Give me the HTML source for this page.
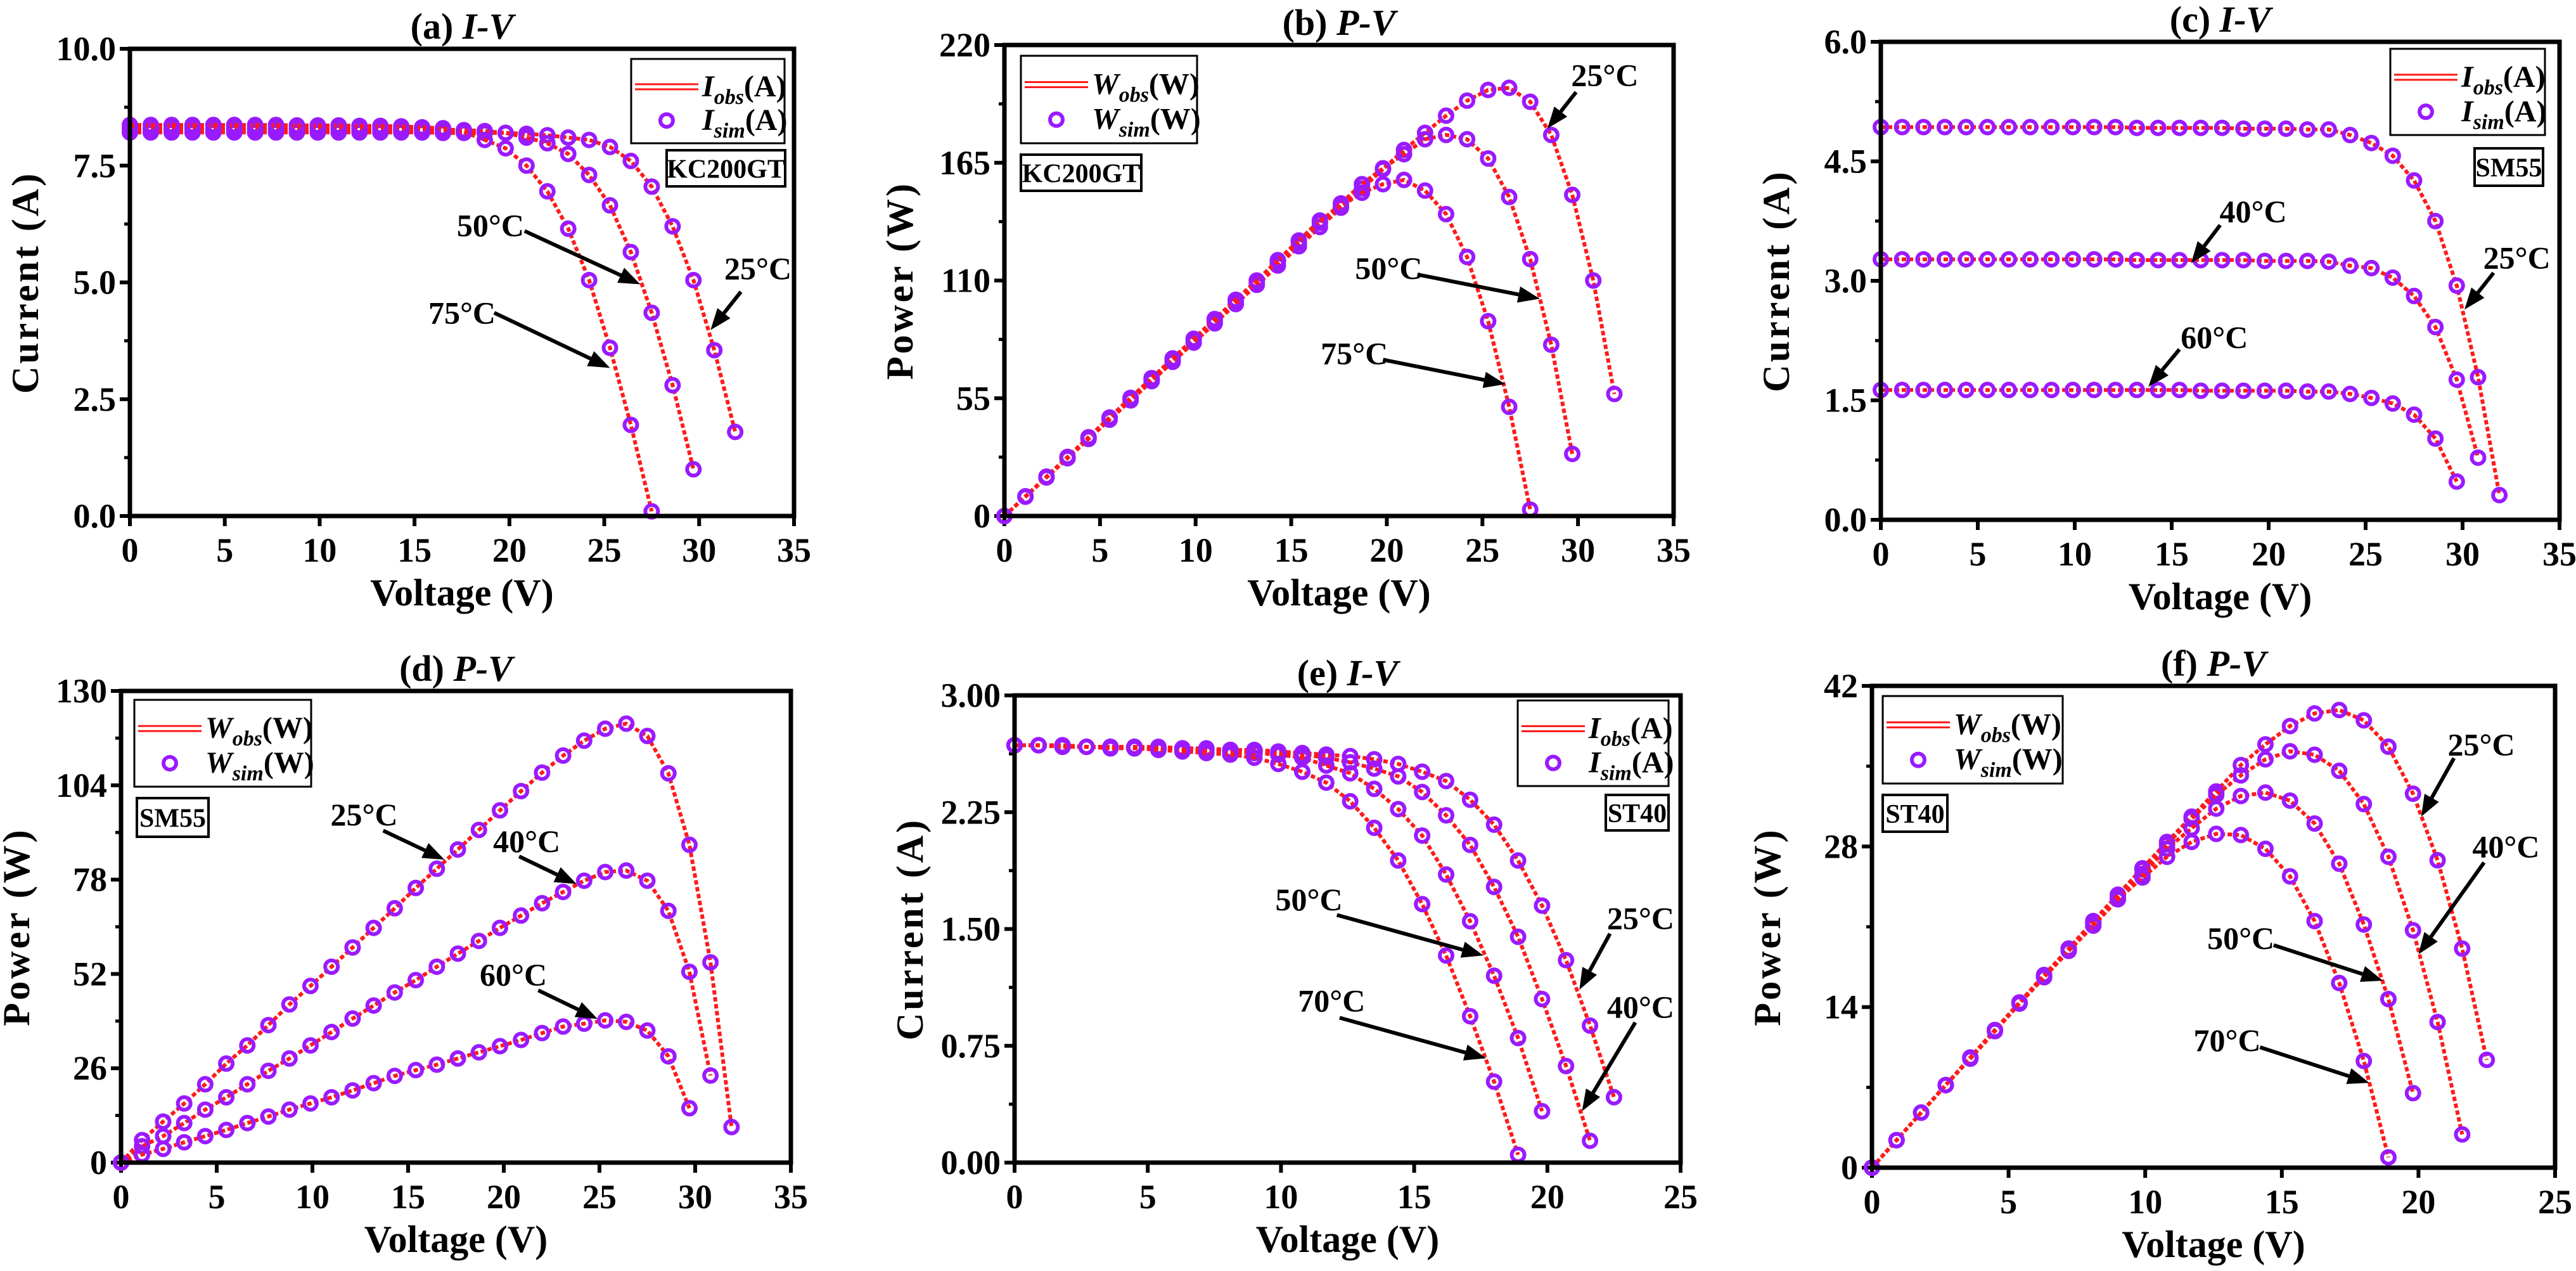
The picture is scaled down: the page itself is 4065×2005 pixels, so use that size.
<!DOCTYPE html>
<html><head><meta charset="utf-8"><style>
html,body{margin:0;padding:0;background:#fff;}
svg{display:block;font-family:"Liberation Serif","Times New Roman",serif;}
text{font-family:"Liberation Serif","Times New Roman",serif;}
</style></head><body>
<svg id="fig" width="4065" height="2005" viewBox="0 0 4065 2005" xmlns="http://www.w3.org/2000/svg" font-family="Liberation Serif, serif"></svg>
<script>
// ---- data ----
const V11 = [0,1.1,2.2,3.3,4.4,5.5,6.6,7.7,8.8,9.9,11,12.1,13.2,14.3,15.4,16.5,17.6,18.7,19.8,20.9,22,23.1,24.2,25.3,26.4,27.5,28.6,29.7,30.8,31.9];
const V09 = [0,0.9,1.8,2.7,3.6,4.5,5.4,6.3,7.2,8.1,9,9.9,10.8,11.7,12.6,13.5,14.4,15.3,16.2,17.1,18,18.9,19.8,20.7,21.6,22.5];
// (a) KC200GT I-V
const a25 = [8.21,8.21,8.21,8.21,8.21,8.21,8.21,8.21,8.21,8.21,8.21,8.21,8.21,8.21,8.21,8.2,8.2,8.2,8.2,8.18,8.15,8.1,8.05,7.9,7.6,7.05,6.2,5.05,3.55,1.8];
const a50 = [8.29,8.29,8.29,8.29,8.29,8.29,8.29,8.29,8.29,8.29,8.29,8.29,8.28,8.28,8.28,8.27,8.26,8.24,8.2,8.1,7.98,7.75,7.3,6.65,5.65,4.35,2.8,1.0];
const a75 = [8.37,8.37,8.37,8.37,8.37,8.37,8.37,8.37,8.36,8.36,8.36,8.35,8.35,8.34,8.32,8.3,8.22,8.05,7.87,7.5,6.95,6.15,5.05,3.6,1.95,0.1];
// (b) KC200GT P-V
const b25 = [0,9,18,27,36,45,54,63,72,81,90,99,108,117,126,135,144,153,162,171,179,187,194,199,200,193.5,178,150,110,57];
const b50 = [0,9.1,18.2,27.4,36.5,45.6,54.8,63.9,73,82.2,91.3,100.4,109.6,118.7,127.8,137,146,155,162.4,169,176,178,176,167,149,120,80,29];
const b75 = [0,9.2,18.4,27.6,36.8,46,55.2,64.4,73.6,82.8,92,101,110,119.5,128.7,138,144.7,151,155,157,152,141,121,91,51,3];
// (c) SM55 I-V
const c25 = [4.93,4.93,4.93,4.93,4.93,4.93,4.93,4.93,4.93,4.93,4.93,4.93,4.92,4.92,4.92,4.92,4.92,4.91,4.91,4.91,4.9,4.9,4.83,4.73,4.57,4.26,3.75,2.94,1.79,0.31];
const c40 = [3.27,3.27,3.27,3.27,3.27,3.27,3.27,3.27,3.27,3.27,3.27,3.27,3.26,3.26,3.26,3.26,3.26,3.26,3.25,3.25,3.25,3.24,3.19,3.16,3.04,2.81,2.42,1.76,0.78];
const c60 = [1.63,1.63,1.63,1.63,1.63,1.63,1.63,1.63,1.63,1.63,1.63,1.63,1.63,1.63,1.63,1.62,1.62,1.62,1.62,1.62,1.61,1.61,1.58,1.53,1.46,1.32,1.02,0.48];
// (d) SM55 P-V
const d25 = [0,6.2,11.3,16.3,21.6,27.3,32.3,37.9,43.6,48.7,54,59.3,64.7,70.1,75.7,81,86.3,91.7,97.1,102.4,107.5,112.2,116.3,119.6,121,117.6,107.3,87.6,55.2,9.8];
const d40 = [0,4.5,7.3,10.9,14.6,18,21.6,25.3,28.7,32.3,36,39.7,43.3,46.9,50.3,54,57.6,61.1,64.7,68.1,71.5,74.6,77.7,80.1,80.5,77.7,69.4,52.6,24];
const d60 = [0,2.2,3.8,5.6,7.3,9,10.9,12.7,14.6,16.3,18,19.9,21.9,23.9,25.5,27,28.7,30.4,32.1,33.8,35.7,37.5,38.3,39.2,38.8,36.4,29.3,15];
// (e) ST40 I-V
const e25 = [2.68,2.68,2.68,2.67,2.67,2.67,2.67,2.66,2.66,2.65,2.65,2.64,2.63,2.62,2.61,2.59,2.56,2.51,2.45,2.33,2.17,1.94,1.65,1.3,0.88,0.42];
const e40 = [2.68,2.68,2.68,2.67,2.67,2.67,2.66,2.66,2.65,2.65,2.64,2.63,2.62,2.6,2.57,2.53,2.48,2.38,2.23,2.04,1.77,1.45,1.05,0.62,0.14];
const e50 = [2.68,2.68,2.67,2.67,2.67,2.66,2.66,2.65,2.65,2.64,2.63,2.62,2.6,2.55,2.5,2.4,2.27,2.1,1.85,1.55,1.2,0.8,0.33];
const e70 = [2.68,2.68,2.67,2.67,2.66,2.66,2.65,2.64,2.63,2.62,2.6,2.56,2.51,2.44,2.32,2.15,1.94,1.66,1.33,0.94,0.52,0.05];
// (f) ST40 P-V
const f25 = [0,2.4,4.8,7.2,9.6,12,14.4,16.8,19.1,21.5,23.8,26.1,28.4,30.6,32.8,35.1,36.9,38.5,39.6,39.9,39.0,36.7,32.6,26.8,19.1,9.4];
const f40 = [0,2.4,4.8,7.2,9.6,12,14.4,16.7,19.1,21.4,23.7,26,28.2,30.4,32.5,34.2,35.6,36.3,36.0,34.6,31.7,27.1,20.7,12.7,2.9];
const f50 = [0,2.4,4.8,7.2,9.6,12,14.4,16.7,19,21.3,23.5,25.6,27.8,29.6,31.3,32.4,32.7,32.0,30.0,26.5,21.2,14.7,6.5];
const f70 = [0,2.4,4.8,7.2,9.5,11.9,14.3,16.6,18.9,21.1,23.4,25.3,27.1,28.4,29.1,29.0,27.8,25.4,21.5,16.1,9.3,0.9];
// tick labels
const ticksX35 = ["0","5","10","15","20","25","30","35"];
const ticksX25 = ["0","5","10","15","20","25"];
const ticksYa = ["0.0","2.5","5.0","7.5","10.0"];
const ticksYb = ["0","55","110","165","220"];
const ticksYc = ["0.0","1.5","3.0","4.5","6.0"];
const ticksYd = ["0","26","52","78","104","130"];
const ticksYe = ["0.00","0.75","1.50","2.25","3.00"];
const ticksYf = ["0","14","28","42"];

const NS="http://www.w3.org/2000/svg";
const FONT='"Liberation Serif", "Times New Roman", serif';
const svg=document.getElementById('fig');
function mk(tag,attrs,parent){const e=document.createElementNS(NS,tag);for(const k in attrs)e.setAttribute(k,attrs[k]);if(tag==='text')e.style.fontFamily=FONT;(parent||svg).appendChild(e);return e;}

const panels=[
 {id:'a',L:205,T:77,R:1253,B:814,xmax:35,xt:ticksX35,yt:ticksYa,ymax:10,title:'(a) ',tit:'I-V',yl:'Current (A)',q:'I',u:'(A)',
  series:[[V11,a25],[V11,a50],[V11,a75]],leg:[996,93,242,133],lab:['KC200GT',1052,237,187,57],
  ann:[['50°C',19.0,6.22,20.8,6.1,26.9,4.96],['75°C',17.5,4.35,19.2,4.35,25.3,3.17],['25°C',33.1,5.3,32.2,4.8,30.6,3.98]]},
 {id:'b',L:1585,T:71,R:2641,B:814,xmax:35,xt:ticksX35,yt:ticksYb,ymax:220,title:'(b) ',tit:'P-V',yl:'Power (W)',q:'W',u:'(W)',
  series:[[V11,b25],[V11,b50],[V11,b75]],leg:[1611,88,278,138],lab:['KC200GT',1611,244,190,57],
  ann:[['25°C',31.4,206,29.9,198,28.4,181],['50°C',20.1,115.7,21.6,112.8,28,101.5],['75°C',18.3,76,19.8,73,26.2,61.6]]},
 {id:'c',L:2968,T:66,R:4039,B:820,xmax:35,xt:ticksX35,yt:ticksYc,ymax:6,title:'(c) ',tit:'I-V',yl:'Current (A)',q:'I',u:'(A)',
  series:[[V11,c25],[V11,c40],[V11,c60]],leg:[3772,77,244,136],lab:['SM55',3905,234,108,59],
  ann:[['40°C',19.2,3.87,17.5,3.7,16.0,3.22],['60°C',17.2,2.29,15.4,2.14,13.8,1.67],['25°C',32.8,3.29,31.6,3.1,30.1,2.64]]},
 {id:'d',L:191,T:1090,R:1248,B:1834,xmax:35,xt:ticksX35,yt:ticksYd,ymax:130,title:'(d) ',tit:'P-V',yl:'Power (W)',q:'W',u:'(W)',
  series:[[V11,d25],[V11,d40],[V11,d60]],leg:[212,1104,279,137],lab:['SM55',216,1259,113,61],
  ann:[['25°C',12.7,95.9,13.7,91.5,16.9,83.5],['40°C',21.2,88.6,20.8,84.4,23.8,76.8],['60°C',20.5,51.8,21.8,47.5,24.9,39.6]]},
 {id:'e',L:1601,T:1097,R:2652,B:1834,xmax:25,xt:ticksX25,yt:ticksYe,ymax:3,title:'(e) ',tit:'I-V',yl:'Current (A)',q:'I',u:'(A)',
  series:[[V09,e25],[V09,e40],[V09,e50],[V09,e70]],leg:[2395,1105,238,135],lab:['ST40',2534,1254,99,56],
  ann:[['50°C',11.05,1.69,12.1,1.59,17.6,1.33],['70°C',11.9,1.04,12.2,0.93,17.7,0.67],['25°C',23.5,1.57,22.35,1.47,21.2,1.11],['40°C',23.5,1.0,23.3,0.9,21.3,0.33]]},
 {id:'f',L:2954,T:1082,R:4032,B:1842,xmax:25,xt:ticksX25,yt:ticksYf,ymax:42,title:'(f) ',tit:'P-V',yl:'Power (W)',q:'W',u:'(W)',
  series:[[V09,f25],[V09,f40],[V09,f50],[V09,f70]],leg:[2971,1098,284,138],lab:['ST40',2971,1254,102,58],
  ann:[['25°C',22.3,36.9,21.3,35.7,20.1,30.6],['40°C',23.2,28.0,22.4,26.6,20.0,18.6],['50°C',13.5,20.0,14.7,19.4,18.7,16.3],['70°C',13.0,11.1,14.2,10.5,18.2,7.4]]}
];

const RED='#ff1a1a', PUR='#9a1aff';

function arrow(g,x1,y1,x2,y2){
  const dx=x2-x1,dy=y2-y1,l=Math.hypot(dx,dy),ux=dx/l,uy=dy/l,h=34,w=13;
  const bx=x2-ux*h,by=y2-uy*h;
  const ln=mk('line',{x1:x1,y1:y1,x2:bx,y2:by,stroke:'#000','stroke-width':6},g);
  
  
  const p=mk('polygon',{points:`${x2},${y2} ${bx-uy*w},${by+ux*w} ${bx+uy*w},${by-ux*w}`,fill:'#000'},g);
  
  
}

panels.forEach(P=>{
  const g=mk('g',{});
  
  
  const sx=v=>P.L+(P.R-P.L)*v/P.xmax;
  const n=P.yt.length-1;
  const sy=v=>P.B-(P.B-P.T)*v/P.ymax;
  const t=mk('text',{x:(P.L+P.R)/2,y:P.T-16,'text-anchor':'middle','font-size':58,'font-weight':'bold'},g);
  
  
  t.appendChild(document.createTextNode(P.title));
  const ti=mk('tspan',{'font-style':'italic'},t);ti.textContent=P.tit;
  const xs=P.xmax/(P.xt.length-1);
  P.xt.forEach((lab,i)=>{
    const x=sx(i*xs);
    const tk=mk('line',{x1:x,y1:P.B,x2:x,y2:P.B+16,stroke:'#000','stroke-width':6},g);
    
    
    const tl=mk('text',{x:x,y:P.B+72,'text-anchor':'middle','font-size':54,'font-weight':'bold'},g);
    
    
    tl.textContent=lab;
  });
  const ys=P.ymax/n;
  P.yt.forEach((lab,i)=>{
    const y=sy(i*ys);
    const tk=mk('line',{x1:P.L-16,y1:y,x2:P.L,y2:y,stroke:'#000','stroke-width':6},g);
    
    
    if(i<n){const ym=sy((i+0.5)*ys);const mt=mk('line',{x1:P.L-9,y1:ym,x2:P.L,y2:ym,stroke:'#000','stroke-width':5},g);
      
      }
    const tl=mk('text',{x:P.L-22,y:y+18,'text-anchor':'end','font-size':54,'font-weight':'bold'},g);
    
    
    tl.textContent=lab;
  });
  const xt=mk('text',{x:(P.L+P.R)/2,y:P.B+141,'text-anchor':'middle','font-size':60,'font-weight':'bold'},g);
  
  
  xt.textContent='Voltage (V)';
  const yx=P.L-145,yy=(P.T+P.B)/2;
  const yt=mk('text',{x:yx,y:yy,'text-anchor':'middle','font-size':60,'font-weight':'bold','letter-spacing':4,transform:`rotate(-90 ${yx} ${yy})`},g);
  
  
  yt.textContent=P.yl;
  P.series.forEach((s,k)=>{
    const [vx,vy]=s;
    const pts=vy.map((v,i)=>sx(vx[i]).toFixed(1)+','+sy(v).toFixed(1)).join(' ');
    const pl=mk('polyline',{points:pts,fill:'none',stroke:RED,'stroke-width':6,'stroke-dasharray':'7,4'},g);
    
    
    vy.forEach((v,i)=>{
      const c=mk('circle',{cx:sx(vx[i]),cy:sy(v),r:10,fill:'none',stroke:PUR,'stroke-width':6},g);
      
      
    });
  });
  const fr=mk('rect',{x:P.L,y:P.T,width:P.R-P.L,height:P.B-P.T,fill:'none',stroke:'#000','stroke-width':7},g);
  
  
  const [lx,ly,lw,lh]=P.leg;
  const lg=mk('g',{},g);
  
  
  mk('rect',{x:lx,y:ly,width:lw,height:lh,fill:'#fff',stroke:'#000','stroke-width':3},lg);
  const l1=ly+lh*0.33,l2=ly+lh*0.73;
  mk('line',{x1:lx+6,y1:l1-4,x2:lx+106,y2:l1-4,stroke:RED,'stroke-width':3},lg);
  mk('line',{x1:lx+6,y1:l1+4,x2:lx+106,y2:l1+4,stroke:RED,'stroke-width':3},lg);
  mk('circle',{cx:lx+56,cy:l2,r:10,fill:'none',stroke:PUR,'stroke-width':6},lg);
  [['obs',l1],['sim',l2]].forEach(([sub,yy2])=>{
    const tx=mk('text',{x:lx+112,y:yy2+15,'font-size':48,'font-weight':'bold'},lg);
    
    
    const a=mk('tspan',{'font-style':'italic'},tx);a.textContent=P.q;
    const b=mk('tspan',{'font-style':'italic','font-size':34,dy:12},tx);b.textContent=sub;
    const c=mk('tspan',{dy:-12},tx);c.textContent=P.u;
  });
  const [lt,bx,by,bw,bh]=P.lab;
  const lr=mk('rect',{x:bx,y:by,width:bw,height:bh,fill:'#fff',stroke:'#000','stroke-width':4},g);
  
  
  const ltx=mk('text',{x:bx+bw/2,y:by+bh/2+15,'text-anchor':'middle','font-size':42,'font-weight':'bold'},g);
  
  
  ltx.textContent=lt;
  P.ann.forEach(a=>{
    const at=mk('text',{x:sx(a[1]),y:sy(a[2])+17,'text-anchor':'middle','font-size':50,'font-weight':'bold'},g);
    
    
    at.textContent=a[0];
    arrow(g,sx(a[3]),sy(a[4]),sx(a[5]),sy(a[6]));
  });
});
</script>
</body></html>
